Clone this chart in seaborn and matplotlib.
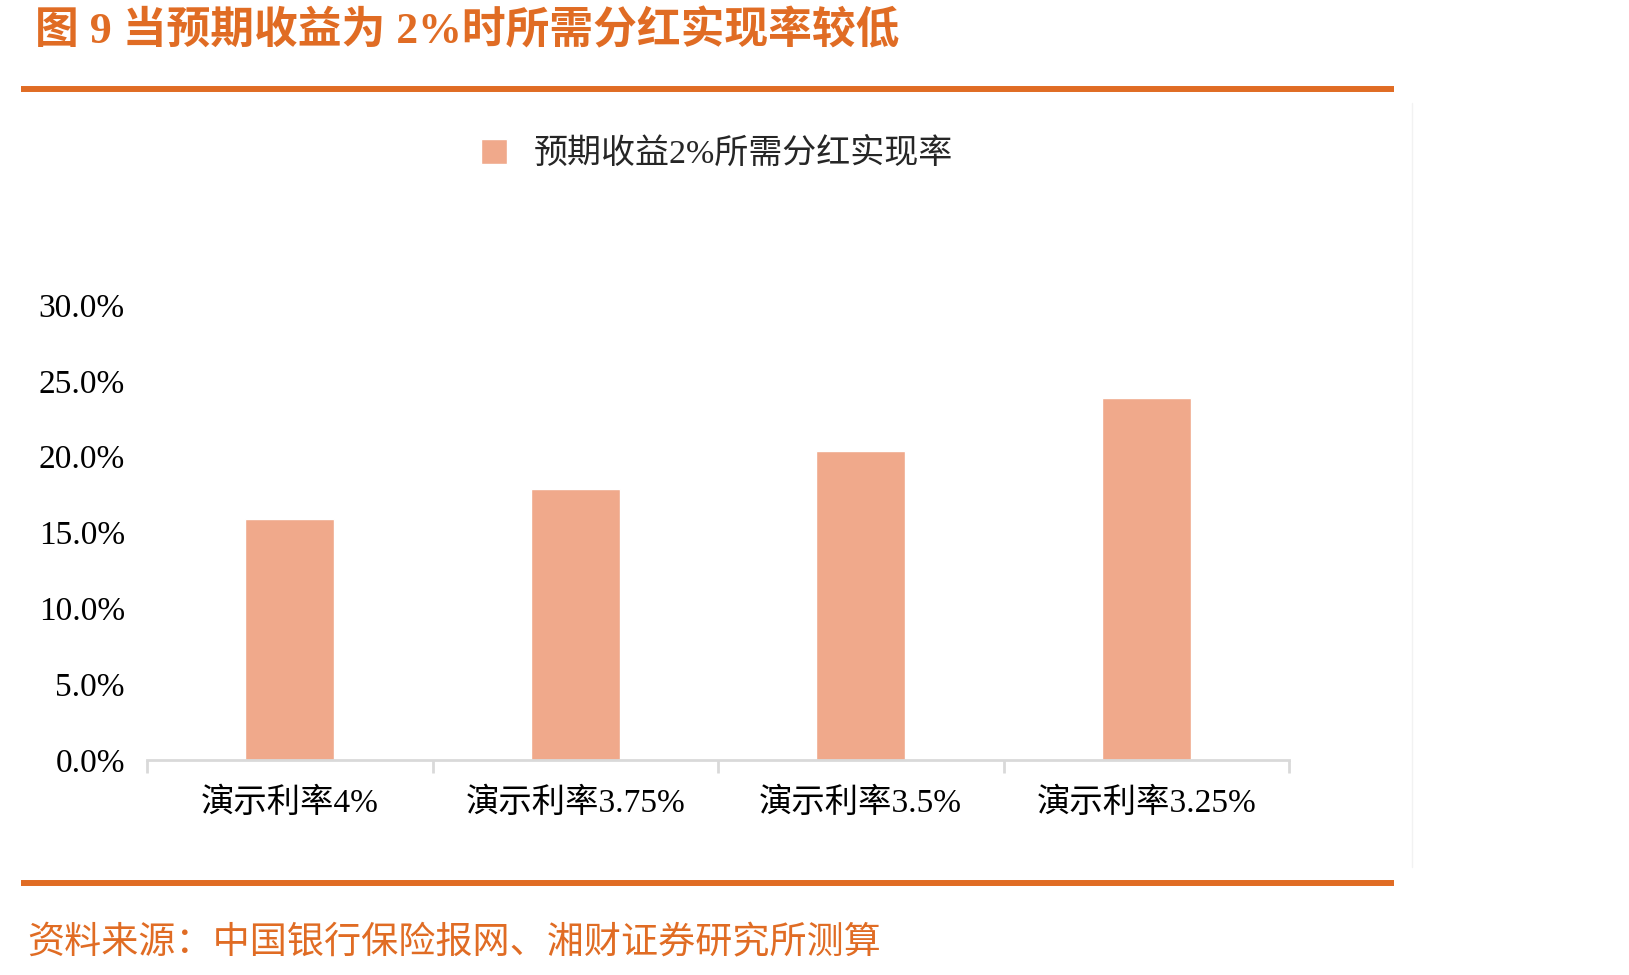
import matplotlib
matplotlib.use("Agg")
import matplotlib.pyplot as plt
import seaborn as sns
from matplotlib.lines import Line2D
from matplotlib.ticker import FixedLocator

# data
categories = ["演示利率4%", "演示利率3.75%", "演示利率3.5%", "演示利率3.25%"]
values = [15.9, 17.9, 20.4, 23.9]
series_name = "预期收益2%所需分红实现率"
y_ticks = [0, 5, 10, 15, 20, 25, 30]

TITLE = "图 9 当预期收益为 2%时所需分红实现率较低"
SOURCE = "资料来源：中国银行保险报网、湘财证券研究所测算"

ORANGE = "#E06C24"
BAR = "#F0A98B"
AXIS_GREY = "#D9D9D9"

sns.set_style("white")
plt.rcParams["font.family"] = ["Liberation Serif", "Noto Sans CJK SC", "DejaVu Sans"]

W, H = 1629, 975
fig = plt.figure(figsize=(W / 100, H / 100), dpi=100)
ax = fig.add_axes([147 / W, 1 - 760 / H, (1289 - 147) / W, (760 - 305) / H])

sns.barplot(x=categories, y=values, color=BAR, saturation=1, width=0.31,
            label=series_name, ax=ax)

ax.set_ylim(0, 30)
ax.set_xlim(-0.5, len(categories) - 0.5)
ax.set_yticks(y_ticks)
ax.set_yticklabels([f"{v:.1f}%" for v in y_ticks])
ax.tick_params(axis="y", length=0, pad=16, labelsize=24, labelcolor="black")
ax.tick_params(axis="x", which="major", length=0, pad=20, labelsize=24, labelcolor="black")
ax.xaxis.set_minor_locator(FixedLocator([i - 0.5 for i in range(len(categories) + 1)]))
ax.tick_params(axis="x", which="minor", bottom=True, length=9, width=2,
               color=AXIS_GREY, direction="out")
ax.set_xlabel("")
ax.set_ylabel("")
for s in ["left", "top", "right"]:
    ax.spines[s].set_visible(False)
ax.spines["bottom"].set_color(AXIS_GREY)
ax.spines["bottom"].set_linewidth(2)
ax.grid(False)

ax.legend(loc="center", bbox_to_anchor=(717 / W, 1 - 154 / H), bbox_transform=fig.transFigure,
          frameon=False, fontsize=24.5, handlelength=0.75, handleheight=0.75, handletextpad=0.8)

# title, rules and source note
fig.text(35 / W, 1 - 31 / H, TITLE, color=ORANGE, fontsize=31.5, fontweight="bold",
         ha="left", va="center")
fig.add_artist(Line2D([21 / W, 1394 / W], [1 - 89 / H] * 2, color=ORANGE, lw=4.3,
                      solid_capstyle="butt"))
fig.add_artist(Line2D([21 / W, 1394 / W], [1 - 883 / H] * 2, color=ORANGE, lw=4.3,
                      solid_capstyle="butt"))
fig.add_artist(Line2D([1412 / W] * 2, [1 - 103 / H, 1 - 867 / H], color="#F2F2F2", lw=1))
fig.text(27 / W, 1 - 943 / H, SOURCE, color=ORANGE, fontsize=26.7, ha="left", va="center")

plt.savefig("out.png", dpi=100)
plt.close()
